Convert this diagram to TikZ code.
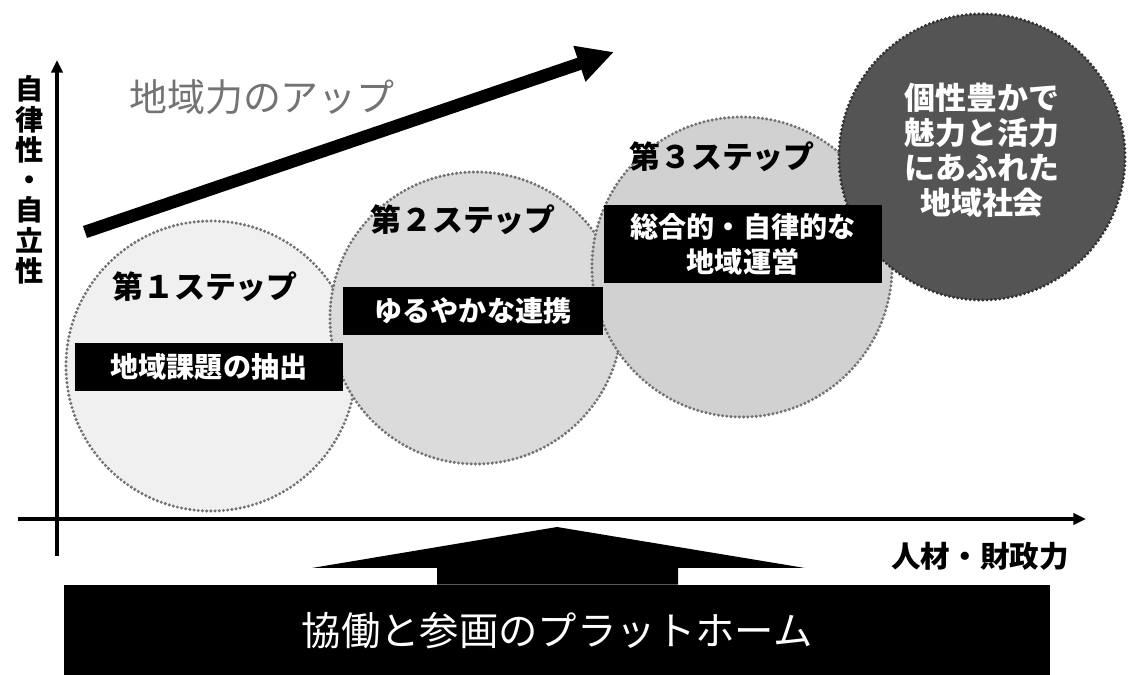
\documentclass[tikz,border=0pt]{standalone}
\usepackage{fontspec}
\setmainfont{Noto Sans CJK JP}
\usetikzlibrary{arrows.meta, positioning}
\definecolor{stepA}{gray}{0.94}
\definecolor{stepB}{gray}{0.86}
\definecolor{stepC}{gray}{0.82}
\definecolor{goalC}{gray}{0.33}
\definecolor{upTxt}{gray}{0.45}

\begin{document}
\begin{tikzpicture}[x=0.025cm, y=-0.025cm,
    stepcircle/.style={circle, draw=black!55, line width=2.4pt, line cap=round,
      dash pattern=on 0pt off 3pt, inner sep=0pt},
    steptitle/.style={font=\bfseries\fontsize{22}{26}\selectfont},
    stepbox/.style={fill=black, text=white, inner sep=0pt, align=center,
      font=\bfseries\fontsize{20}{25}\selectfont},
    axis/.style={line width=2.2pt, -{Triangle[length=9pt, width=8pt]}}]
  \useasboundingbox (0,0) rectangle (1134,675);

  % circles
  \node[stepcircle, fill=stepA, minimum size=7.25cm] (c1) at (211,366) {};
  \node[stepcircle, fill=stepB, minimum size=7.3cm] (c2) at (476,318) {};
  \node[stepcircle, fill=stepC, minimum size=7.5cm] (c3) at (742,267) {};
  \node[stepcircle, fill=goalC, draw=gray!40!black, minimum size=7.15cm] (c4) at (982,157) {};

  % steps
  \node[steptitle] (t1) at (205,287) {第１ステップ};
  \node[steptitle] (t2) at (463,220) {第２ステップ};
  \node[steptitle] (t3) at (722,157) {第３ステップ};
  \node[stepbox, minimum width=6.7cm, minimum height=1.18cm] (b1) at (209,367) {地域課題の抽出};
  \node[stepbox, minimum width=6.5cm, minimum height=1.2cm] (b2) at (473,311) {ゆるやかな連携};
  \node[stepbox, minimum width=6.93cm, minimum height=1.95cm] (b3) at (743,244) {総合的・自律的な\\地域運営};
  \node[text=white, align=center, font=\bfseries\fontsize{22}{25}\selectfont] (g) at (982,150)
    {個性豊かで\\魅力と活力\\にあふれた\\地域社会};

  % rising arrow
  \coordinate (upS) at (85,232);
  \coordinate (upE) at (614,52);
  \draw[line width=9pt, -{Triangle[length=26pt, width=25pt]}] (upS) -- (upE);
  \node[text=upTxt, font=\fontsize{27}{30}\selectfont] (up) at (262,97) {地域力のアップ};

  % axes
  \coordinate (yS) at (57,556);
  \coordinate (yE) at (57,60);
  \coordinate (xS) at (18,519);
  \coordinate (xE) at (1086,519);
  \draw[axis] (yS) -- (yE);
  \draw[axis] (xS) -- (xE);
  \node[align=center, font=\bfseries\fontsize{20}{21.5}\selectfont] (ylab) at (30,180)
    {自\\律\\性\\・\\自\\立\\性};
  \node[font=\bfseries\fontsize{21}{24}\selectfont] (xlab) at (980,556) {人材・財政力};

  % platform
  \node[fill=black, text=white, inner sep=0pt, minimum width=24.63cm, minimum height=2.3cm,
    font=\fontsize{28}{32}\selectfont] (pf) at (557,631) {協働と参画のプラットホーム};
  \fill (pf.north -| 437,0) -- (437,568) -- (312,568) -- (557,527) -- (805,568)
    -- (678,568) -- (pf.north -| 678,0) -- cycle;
\end{tikzpicture}
\end{document}
